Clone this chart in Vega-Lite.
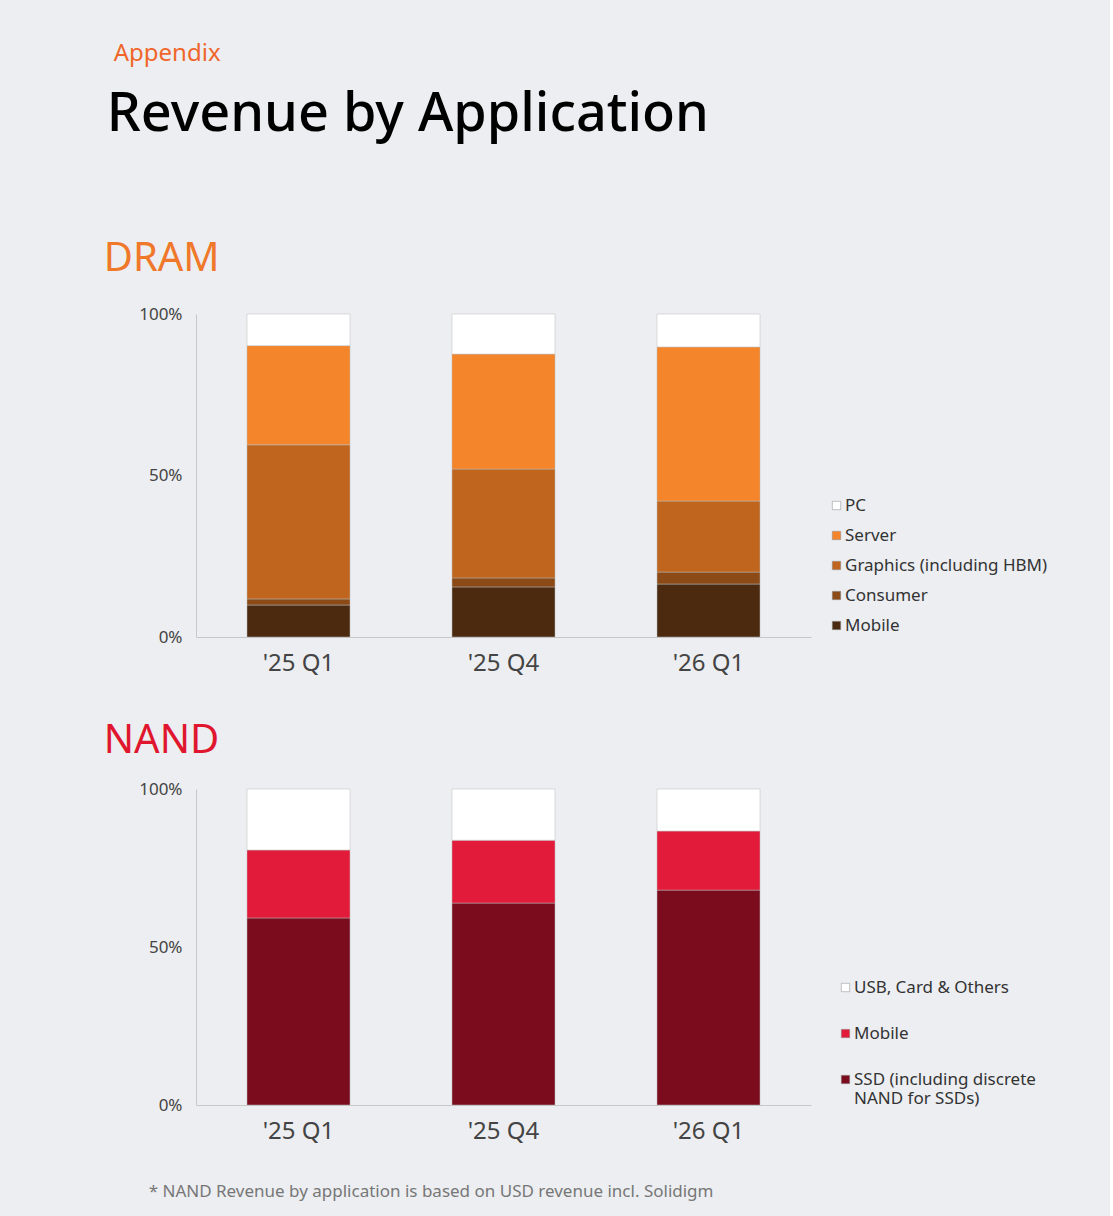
{
  "$schema": "https://vega.github.io/schema/vega-lite/v6.json",
  "background": "#eceef1",
  "padding": {"left": 100, "top": 42, "right": 62, "bottom": 18},
  "config": {
    "font": "Noto Sans",
    "view": {"stroke": null},
    "axis": {"labelFont": "Noto Sans", "labelColor": "#444", "domainColor": "#c8c8c8", "ticks": false, "grid": false, "title": null},
    "legend": {"labelFont": "Noto Sans", "labelFontSize": 17, "labelColor": "#333", "symbolType": "square", "symbolSize": 70, "symbolStrokeWidth": 0.5, "symbolStrokeColor": "#888", "title": null}
  },
  "title": {"text": "* NAND Revenue by application is based on USD revenue incl. Solidigm", "orient": "bottom", "anchor": "start", "fontSize": 17, "fontWeight": "normal", "color": "#777", "offset": 41, "dx": 48},
  "vconcat": [{
    "title": {"text": "Appendix", "anchor": "start", "fontSize": 24, "fontWeight": "normal", "color": "#f0662a", "offset": 22, "dx": 13},
    "vconcat": [{
      "title": {"text": "Revenue by Application", "anchor": "start", "fontSize": 54, "fontWeight": 500, "color": "#000", "offset": 97, "dx": 6},
      "spacing": 46,
      "resolve": {"scale": {"color": "independent"}},
      "vconcat": [
        {
          "title": {"text": "DRAM", "anchor": "start", "fontSize": 40, "fontWeight": "normal", "color": "#f0782a", "offset": 26, "dx": 3},
          "width": 615,
          "height": 323,
          "data": {"values": [
            {"q": "'25 Q1", "app": "Mobile", "v": 9.9, "o": 1},
            {"q": "'25 Q1", "app": "Consumer", "v": 1.9, "o": 2},
            {"q": "'25 Q1", "app": "Graphics (including HBM)", "v": 47.7, "o": 3},
            {"q": "'25 Q1", "app": "Server", "v": 30.7, "o": 4},
            {"q": "'25 Q1", "app": "PC", "v": 9.8, "o": 5},
            {"q": "'25 Q4", "app": "Mobile", "v": 15.5, "o": 1},
            {"q": "'25 Q4", "app": "Consumer", "v": 2.8, "o": 2},
            {"q": "'25 Q4", "app": "Graphics (including HBM)", "v": 33.7, "o": 3},
            {"q": "'25 Q4", "app": "Server", "v": 35.6, "o": 4},
            {"q": "'25 Q4", "app": "PC", "v": 12.4, "o": 5},
            {"q": "'26 Q1", "app": "Mobile", "v": 16.4, "o": 1},
            {"q": "'26 Q1", "app": "Consumer", "v": 3.7, "o": 2},
            {"q": "'26 Q1", "app": "Graphics (including HBM)", "v": 22.0, "o": 3},
            {"q": "'26 Q1", "app": "Server", "v": 47.7, "o": 4},
            {"q": "'26 Q1", "app": "PC", "v": 10.2, "o": 5}
          ]},
          "mark": {"type": "bar", "width": 103, "stroke": "#bbb", "strokeWidth": 0.5},
          "encoding": {
            "x": {"field": "q", "type": "nominal", "sort": null, "axis": {"labelAngle": 0, "labelFontSize": 24, "labelPadding": 14}},
            "y": {"field": "v", "type": "quantitative", "stack": "zero", "scale": {"domain": [0, 100], "nice": false}, "axis": {"title": " ", "titleFontSize": 10, "titlePadding": 28, "values": [0, 50, 100], "labelExpr": "datum.value + '%'", "labelFontSize": 17, "labelPadding": 14}},
            "order": {"field": "o"},
            "color": {"field": "app", "type": "nominal", "scale": {"domain": ["PC", "Server", "Graphics (including HBM)", "Consumer", "Mobile"], "range": ["#ffffff", "#f5852a", "#bf651e", "#8b4a16", "#4b2a10"]}, "legend": {"labelLimit": 300, "rowPadding": 12, "orient": "none", "legendX": 632, "legendY": 183, "padding": 0, "symbolOffset": 0, "labelOffset": 0}}
          }
        },
        {
          "title": {"text": "NAND", "anchor": "start", "fontSize": 40, "fontWeight": "normal", "color": "#e0162e", "offset": 19, "dx": 3},
          "width": 615,
          "height": 316,
          "data": {"values": [
            {"q": "'25 Q1", "app": "SSD (including discrete NAND for SSDs)", "v": 59.2, "o": 1},
            {"q": "'25 Q1", "app": "Mobile", "v": 21.5, "o": 2},
            {"q": "'25 Q1", "app": "USB, Card & Others", "v": 19.3, "o": 3},
            {"q": "'25 Q4", "app": "SSD (including discrete NAND for SSDs)", "v": 63.9, "o": 1},
            {"q": "'25 Q4", "app": "Mobile", "v": 19.9, "o": 2},
            {"q": "'25 Q4", "app": "USB, Card & Others", "v": 16.2, "o": 3},
            {"q": "'26 Q1", "app": "SSD (including discrete NAND for SSDs)", "v": 68.0, "o": 1},
            {"q": "'26 Q1", "app": "Mobile", "v": 18.7, "o": 2},
            {"q": "'26 Q1", "app": "USB, Card & Others", "v": 13.3, "o": 3}
          ]},
          "mark": {"type": "bar", "width": 103, "stroke": "#bbb", "strokeWidth": 0.5},
          "encoding": {
            "x": {"field": "q", "type": "nominal", "sort": null, "axis": {"labelAngle": 0, "labelFontSize": 24, "labelPadding": 14}},
            "y": {"field": "v", "type": "quantitative", "stack": "zero", "scale": {"domain": [0, 100], "nice": false}, "axis": {"title": " ", "titleFontSize": 10, "titlePadding": 28, "values": [0, 50, 100], "labelExpr": "datum.value + '%'", "labelFontSize": 17, "labelPadding": 14}},
            "order": {"field": "o"},
            "color": {"field": "app", "type": "nominal", "scale": {"domain": ["USB, Card & Others", "Mobile", "SSD (including discrete NAND for SSDs)"], "range": ["#ffffff", "#e31b3a", "#7a0c1e"]}, "legend": {"labelLimit": 200, "rowPadding": 28, "orient": "none", "legendX": 641, "legendY": 190, "padding": 0, "symbolOffset": 0, "labelOffset": 0, "labelLineHeight": 25, "labelExpr": "datum.label == 'SSD (including discrete NAND for SSDs)' ? ['SSD (including discrete', 'NAND for SSDs)'] : datum.label"}}
          }
        }
      ]
    }]
  }]
}
